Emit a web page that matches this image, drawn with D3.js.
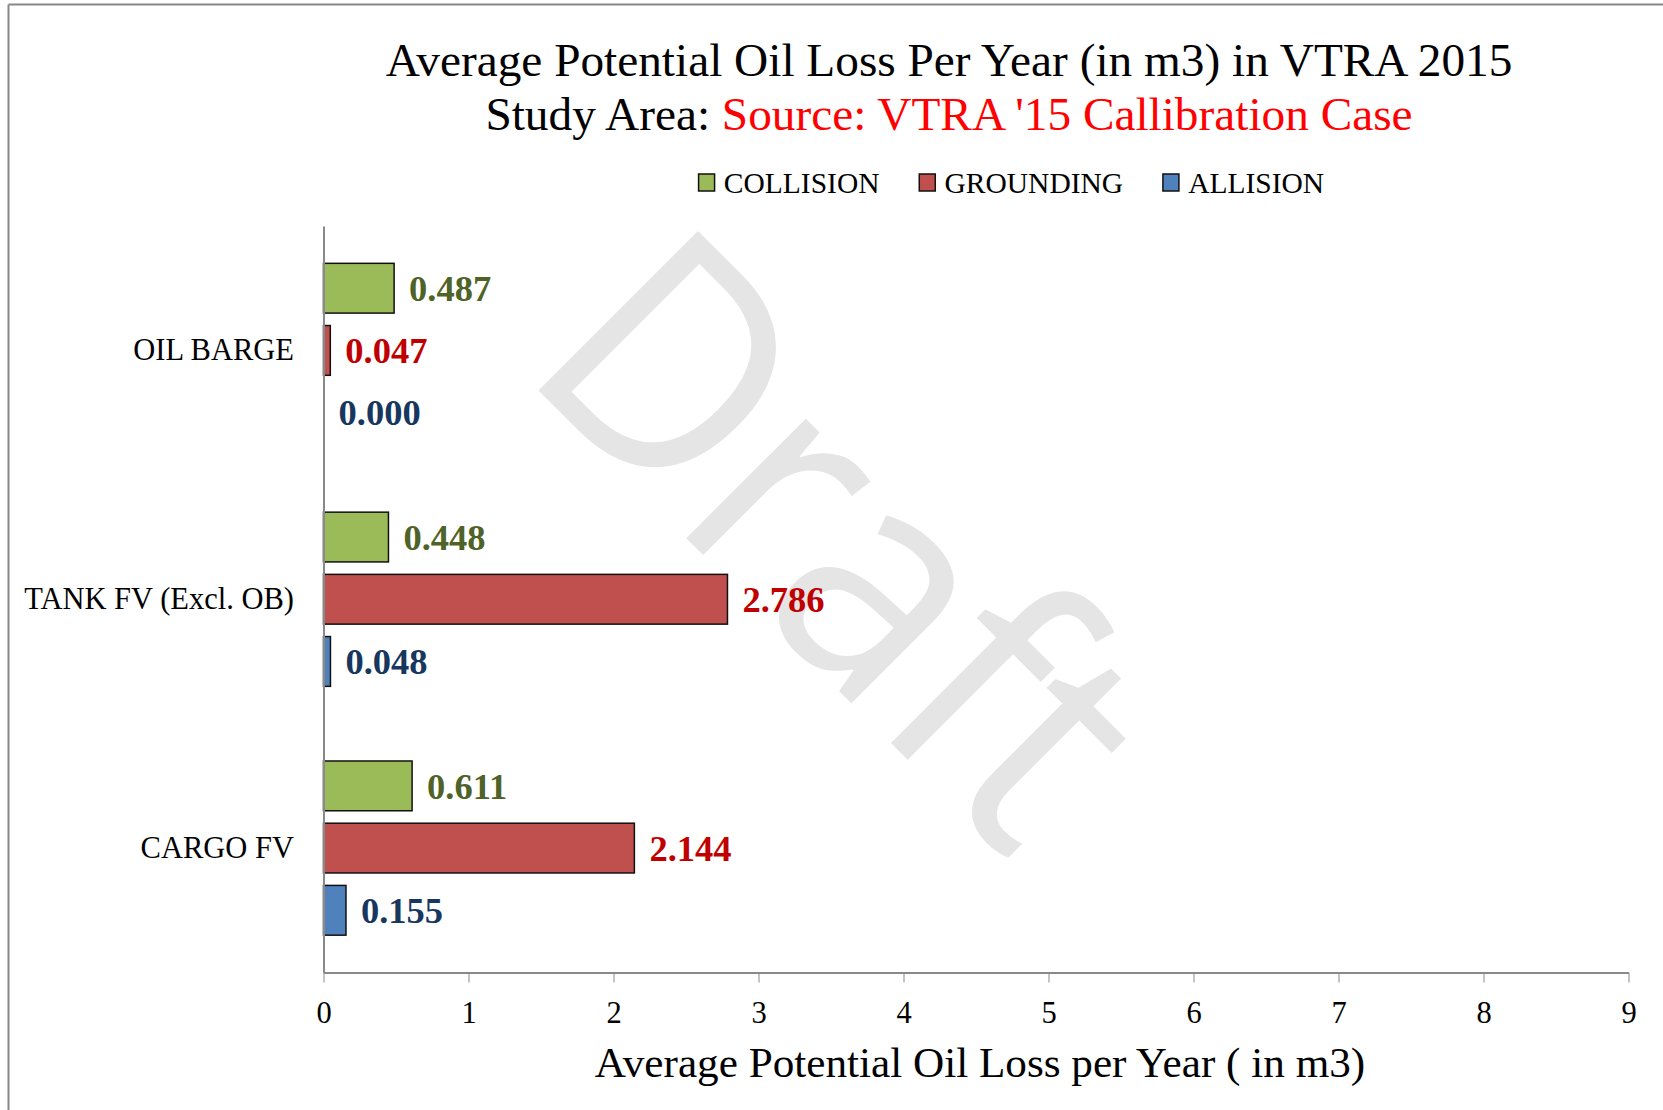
<!DOCTYPE html>
<html>
<head>
<meta charset="utf-8">
<script src="https://cdn.jsdelivr.net/npm/d3@7"></script>
<style>
  body { margin: 0; background: #fff; }
  text { font-family: "Liberation Serif", serif; }
</style>
</head>
<body>
<script>
// data
const categories = ["OIL BARGE", "TANK FV (Excl. OB)", "CARGO FV"];
const seriesNames = ["COLLISION", "GROUNDING", "ALLISION"];
const collision = [0.487, 0.448, 0.611];
const grounding = [0.047, 2.786, 2.144];
const allision = [0.000, 0.048, 0.155];
const xTicks = [0, 1, 2, 3, 4, 5, 6, 7, 8, 9];

const fills = ["#9BBB59", "#C0504D", "#4F81BD"];
const labelColors = ["#4F6228", "#C00000", "#17375E"];

const W = 1663, H = 1110;
const svg = d3.select("body").append("svg")
  .attr("width", W)
  .attr("height", H);

// frame lines (top + left edge of the chart area)
svg.append("line").attr("x1", 8.5).attr("y1", 4.5).attr("x2", W).attr("y2", 4.5)
  .attr("stroke", "#888").attr("stroke-width", 2);
svg.append("line").attr("x1", 8.5).attr("y1", 4.5).attr("x2", 8.5).attr("y2", H)
  .attr("stroke", "#888").attr("stroke-width", 2);

const x = d3.scaleLinear().domain([0, 9]).range([323.5, 1628.5]);
const y = d3.scaleBand().domain(categories).range([226, 972.5]);
const ySub = d3.scaleBand().domain(seriesNames)
  .range([0, y.bandwidth()])
  .paddingInner(0.2)
  .paddingOuter(0.6);

// watermark
svg.append("text")
  .attr("transform", "translate(765,617) rotate(45)")
  .attr("text-anchor", "middle")
  .attr("textLength", 698)
  .attr("lengthAdjust", "spacingAndGlyphs")
  .style("font-family", "'Open Sans', sans-serif")
  .style("font-size", "316px")
  .attr("fill", "#E5E5E5")
  .text("Draft");

// title
const title = svg.append("g").attr("text-anchor", "middle").style("font-size", "47.3px");
title.append("text").attr("x", 949).attr("y", 76)
  .text("Average Potential Oil Loss Per Year (in m3) in VTRA 2015");
const t2 = title.append("text").attr("x", 949).attr("y", 130);
t2.append("tspan").text("Study Area: ");
t2.append("tspan").attr("fill", "#FF0000").text("Source: VTRA '15 Callibration Case");

// legend
const legend = svg.append("g");
let lx = 0;
seriesNames.forEach((name, i) => {
  const item = legend.append("g").attr("transform", `translate(${lx},0)`);
  item.append("rect").attr("x", 0.75).attr("y", 174).attr("width", 16).attr("height", 17)
    .attr("fill", fills[i]).attr("stroke", "#111").attr("stroke-width", 1.5);
  const t = item.append("text").attr("x", 26).attr("y", 193)
    .style("font-size", "29.5px").text(name);
  lx += 26 + t.node().getComputedTextLength() + 39;
});
const legendW = lx - 39;
legend.attr("transform", `translate(${1011 - legendW / 2},0)`);

// bars
const series = [collision, grounding, allision];
const rows = [];
categories.forEach((c, ci) => {
  series.forEach((vals, si) => rows.push({ cat: c, s: seriesNames[si], si: si, v: vals[ci] }));
});

svg.append("g").selectAll("rect")
  .data(rows.filter(d => d.v > 0))
  .join("rect")
  .attr("x", x(0))
  .attr("y", d => y(d.cat) + ySub(d.s))
  .attr("width", d => x(d.v) - x(0))
  .attr("height", ySub.bandwidth())
  .attr("fill", d => fills[d.si])
  .attr("stroke", "#111")
  .attr("stroke-width", 1.5);

svg.append("g").selectAll("text")
  .data(rows)
  .join("text")
  .attr("x", d => x(d.v) + 15)
  .attr("y", d => y(d.cat) + ySub(d.s) + ySub.bandwidth() / 2)
  .attr("dy", "0.35em")
  .attr("fill", d => labelColors[d.si])
  .style("font-size", "36.5px")
  .style("font-weight", "bold")
  .text(d => d3.format(".3f")(d.v));

// axes
svg.append("g")
  .attr("transform", "translate(0,972.5)")
  .call(d3.axisBottom(x).tickValues(xTicks).tickFormat(d3.format("d")).tickSize(10).tickSizeOuter(0))
  .call(g => g.select(".domain").attr("stroke", "#898989").attr("stroke-width", 2))
  .call(g => g.selectAll(".tick line").attr("stroke", "#898989").attr("stroke-width", 1))
  .call(g => g.selectAll(".tick text").attr("y", 50.5).attr("dy", null)
    .attr("fill", "#000").style("font-size", "30.5px").style("font-family", "'Liberation Serif', serif"));

svg.append("g")
  .attr("transform", `translate(${x(0)},0)`)
  .call(d3.axisLeft(y).tickSize(0).tickSizeOuter(0).tickPadding(29.5))
  .call(g => g.select(".domain").attr("stroke", "#898989").attr("stroke-width", 2))
  .call(g => g.selectAll(".tick text").attr("fill", "#000")
    .style("font-size", "30.5px").style("font-family", "'Liberation Serif', serif"));

// x axis title
svg.append("text")
  .attr("x", 980).attr("y", 1077)
  .attr("text-anchor", "middle")
  .style("font-size", "43.2px")
  .text("Average Potential Oil Loss per Year ( in m3)");
</script>
</body>
</html>
